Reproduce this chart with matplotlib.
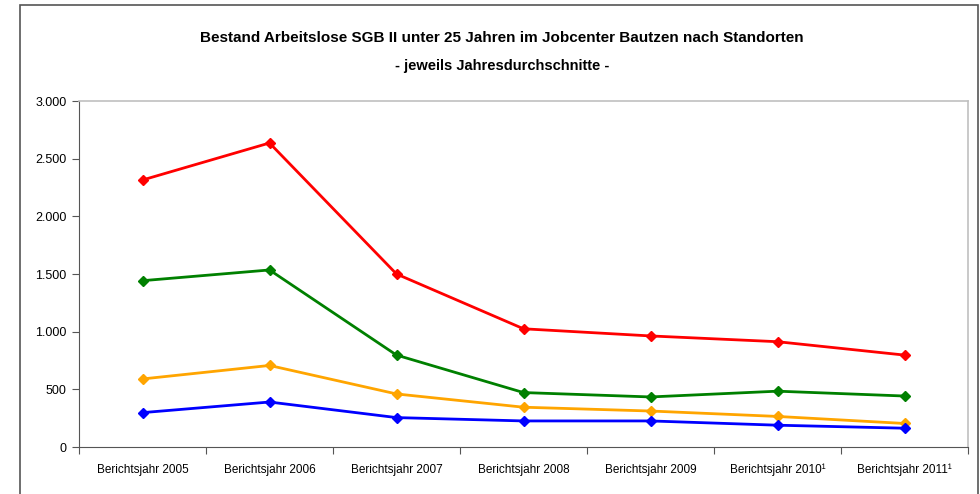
import matplotlib.pyplot as plt
from matplotlib.patches import Rectangle
from matplotlib.ticker import FuncFormatter

# Kategorien (Berichtsjahre)
jahre = ["Berichtsjahr 2005", "Berichtsjahr 2006", "Berichtsjahr 2007",
         "Berichtsjahr 2008", "Berichtsjahr 2009", "Berichtsjahr 2010¹",
         "Berichtsjahr 2011¹"]

# Jahresdurchschnitte je Standort
standort_rot = [2315, 2636, 1500, 1025, 963, 913, 797]
standort_gruen = [1442, 1535, 797, 472, 434, 484, 442]
standort_orange = [590, 707, 460, 345, 312, 265, 204]
standort_blau = [298, 390, 255, 226, 226, 189, 163]

plt.rcParams['font.family'] = ['Liberation Sans', 'DejaVu Sans']

fig = plt.figure(figsize=(9.8, 4.94), dpi=100)

# Rahmen um das Diagramm
fig.patches.append(Rectangle((20 / 980, -0.05), 958 / 980, 1.05 - 5 / 494,
                             transform=fig.transFigure, fill=False,
                             edgecolor="#555555", linewidth=1.2))

ax = fig.add_axes([79 / 980, 1 - 447 / 494, 889 / 980, 346 / 494])

x = list(range(len(jahre)))
for werte, farbe in [(standort_rot, "#FF0000"), (standort_gruen, "#008000"),
                     (standort_orange, "#FFA500"), (standort_blau, "#0000FF")]:
    ax.plot(x, werte, color=farbe, linewidth=2, marker="D", markersize=5.5)

ax.set_xlim(-0.5, len(jahre) - 0.5)
ax.set_ylim(0, 3000)
ax.set_yticks(range(0, 3001, 500))
ax.yaxis.set_major_formatter(FuncFormatter(lambda v, p: f"{int(v):,}".replace(",", ".")))

# Teilstriche zwischen den Kategorien, Beschriftung in der Mitte
ax.set_xticks([i - 0.5 for i in range(len(jahre) + 1)])
ax.set_xticklabels([])
ax.set_xticks(x, minor=True)
ax.set_xticklabels(jahre, minor=True, fontsize=8.5)
ax.tick_params(axis="x", which="minor", length=0, pad=12)
ax.tick_params(axis="x", which="major", length=5, color="#555555")
ax.tick_params(axis="y", length=5, color="#555555", labelsize=9, pad=4)

for s in ["left", "bottom"]:
    ax.spines[s].set_color("#555555")
for s in ["top", "right"]:
    ax.spines[s].set_color("#c0c0c0")
    ax.spines[s].set_linewidth(1.2)

fig.text(502 / 980, 1 - 38 / 494, "Bestand Arbeitslose SGB II unter 25 Jahren im Jobcenter Bautzen nach Standorten",
         ha="center", va="center", fontsize=11, fontweight="bold")
fig.text(502 / 980, 1 - 66 / 494, "- jeweils Jahresdurchschnitte -",
         ha="center", va="center", fontsize=10.5, fontweight="bold")

fig.savefig("out.png", dpi=100)
